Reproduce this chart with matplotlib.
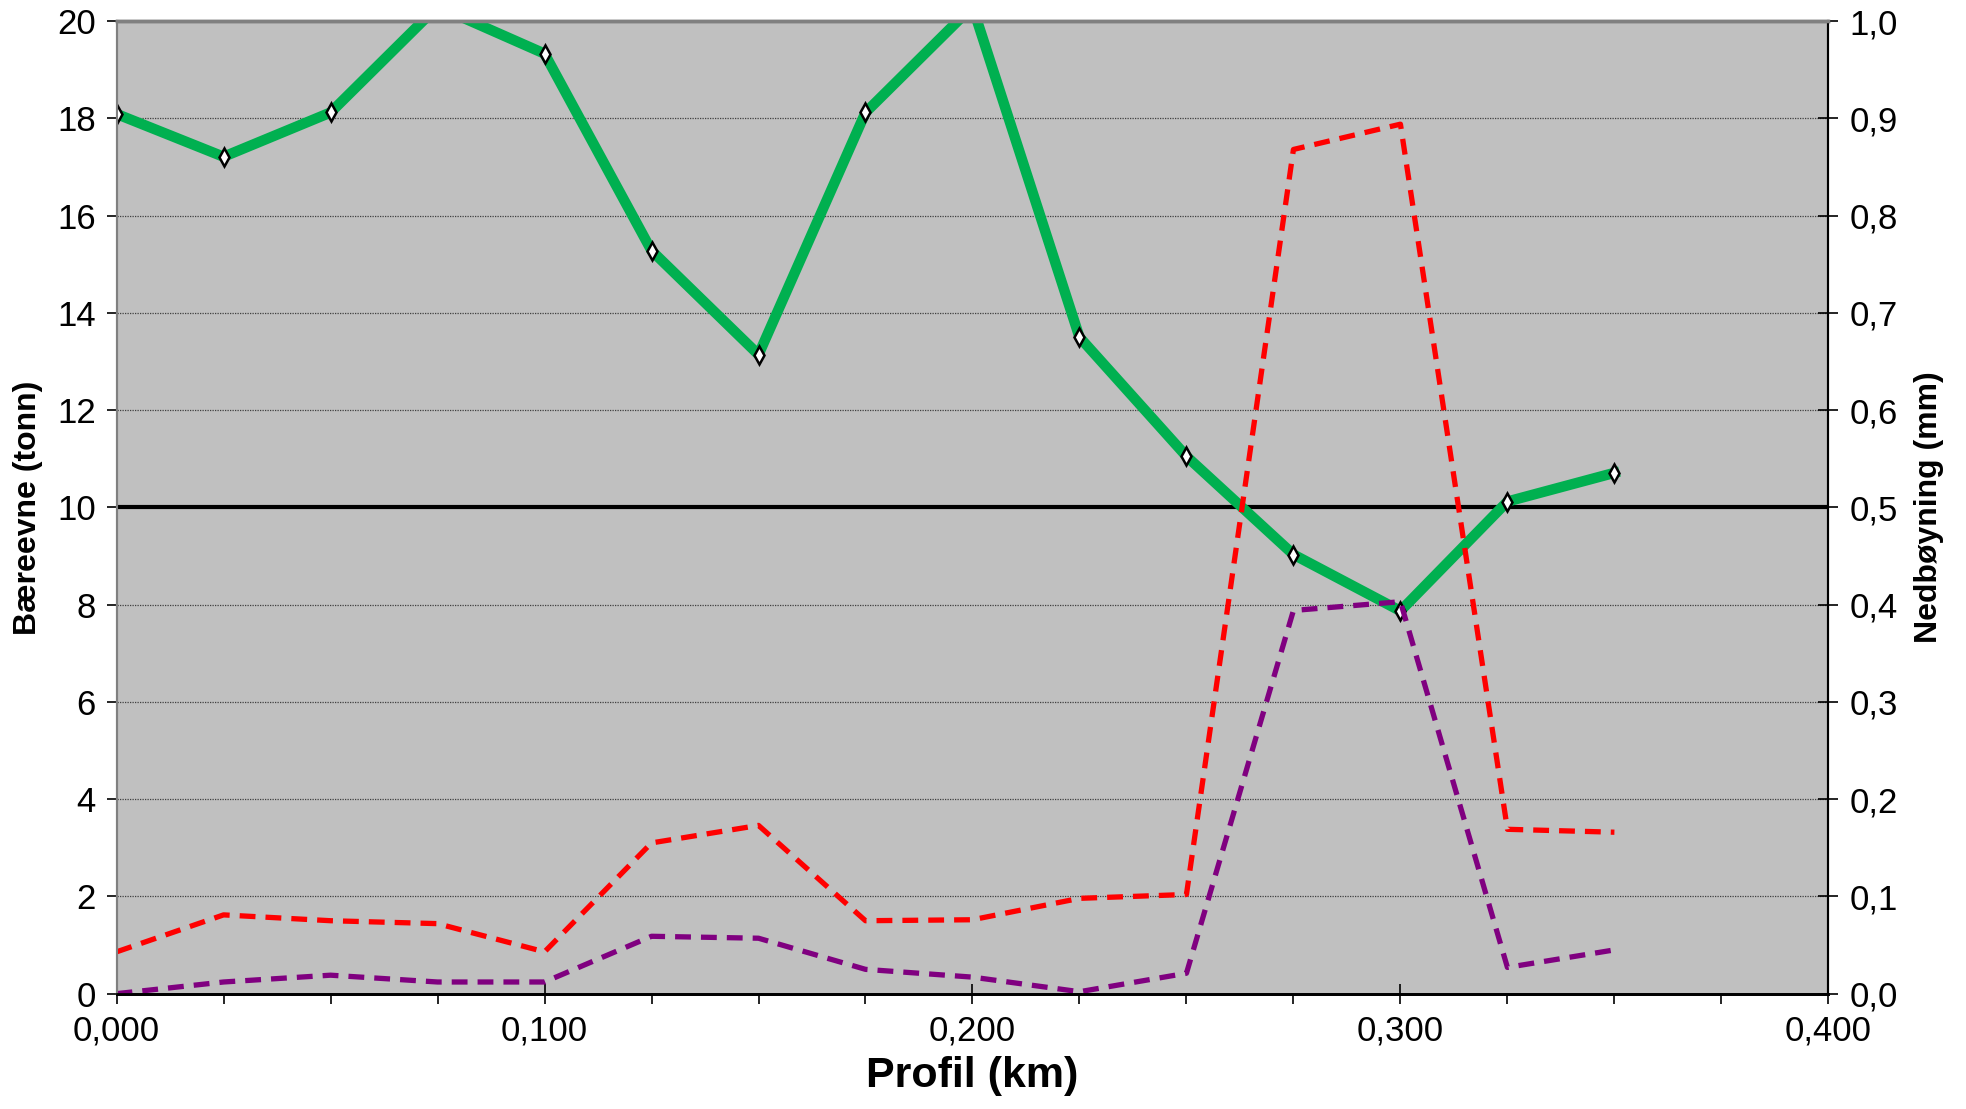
import matplotlib
matplotlib.use("Agg")
import matplotlib.pyplot as plt
from matplotlib.ticker import MultipleLocator, FuncFormatter

# Profil (km)
profil = [0.000, 0.025, 0.050, 0.075, 0.100, 0.125, 0.150, 0.175,
          0.200, 0.225, 0.250, 0.275, 0.300, 0.325, 0.350]
# Bæreevne (tonn)
baereevne = [18.09, 17.21, 18.12, 20.3, 19.33, 15.28, 13.14, 18.12,
             20.3, 13.5, 11.05, 9.03, 7.87, 10.12, 10.71]
# Nedbøyning (mm)
nedb_rod = [0.043, 0.081, 0.075, 0.072, 0.043, 0.155, 0.173, 0.075,
            0.076, 0.098, 0.102, 0.868, 0.894, 0.169, 0.166]
nedb_lilla = [0.0, 0.012, 0.019, 0.012, 0.012, 0.059, 0.057, 0.025,
              0.017, 0.002, 0.021, 0.394, 0.403, 0.027, 0.045]
grense = 10

narrow = ["Liberation Sans Narrow", "Liberation Sans", "DejaVu Sans"]
bold = ["Liberation Sans", "DejaVu Sans"]

fig = plt.figure(figsize=(19.66, 11.09), dpi=100)
ax = fig.add_axes([0.0593, 0.104, 0.8707, 0.877])
ax2 = ax.twinx()

ax.set_facecolor("#C0C0C0")
ax.axhline(grense, color="black", lw=3, zorder=3)
ax.plot(profil, baereevne, color="#00B050", lw=7.5, zorder=4,
        marker="d", markersize=9, markerfacecolor="white",
        markeredgecolor="black", markeredgewidth=1.8)

ax2.plot(profil, nedb_rod, color="#FF0000", lw=3.8, dashes=(3, 1.9))
ax2.plot(profil, nedb_lilla, color="#800080", lw=3.8, dashes=(3, 1.9))

ax.set_xlim(0, 0.4)
ax.set_ylim(0, 20)
ax2.set_ylim(0, 1.0)

ax.xaxis.set_major_locator(MultipleLocator(0.1))
ax.xaxis.set_minor_locator(MultipleLocator(0.025))
ax.yaxis.set_major_locator(MultipleLocator(2))
ax2.yaxis.set_major_locator(MultipleLocator(0.1))

ax.xaxis.set_major_formatter(FuncFormatter(lambda v, p: f"{v:.3f}".replace(".", ",")))
ax.yaxis.set_major_formatter(FuncFormatter(lambda v, p: f"{v:.0f}"))
ax2.yaxis.set_major_formatter(FuncFormatter(lambda v, p: f"{v:.1f}".replace(".", ",")))

ax.grid(axis="y", color="#404040", linestyle=(0, (1, 1)), lw=0.9)
ax.set_axisbelow(True)

ax.tick_params(axis="x", which="major", direction="inout", length=14, width=1.2, pad=8)
ax.tick_params(axis="x", which="minor", direction="out", length=7, width=1.2)
ax.tick_params(axis="y", direction="out", length=7, width=1.2, pad=8)
ax2.tick_params(axis="y", direction="inout", length=14, width=1.2, pad=8)

for lab in ax.get_xticklabels() + ax.get_yticklabels() + ax2.get_yticklabels():
    lab.set_family(narrow)
    lab.set_fontsize(25)

ax.set_xlabel("Profil (km)", family=narrow, fontweight="bold", fontsize=31, labelpad=6)
ax.set_ylabel("Bæreevne (tonn)", family=bold, fontweight="bold", fontsize=23, labelpad=10)
ax2.set_ylabel("Nedbøyning (mm)", family=bold, fontweight="bold", fontsize=23,
               rotation=90, labelpad=12)

for a in (ax, ax2):
    a.spines["top"].set_color("#808080")
    a.spines["top"].set_linewidth(2.5)
    a.spines["left"].set_color("#808080")
    a.spines["left"].set_linewidth(1.5)
    a.spines["bottom"].set_color("black")
    a.spines["bottom"].set_linewidth(2)
    a.spines["right"].set_color("black")
    a.spines["right"].set_linewidth(1.5)

fig.savefig("out.png", dpi=100)
